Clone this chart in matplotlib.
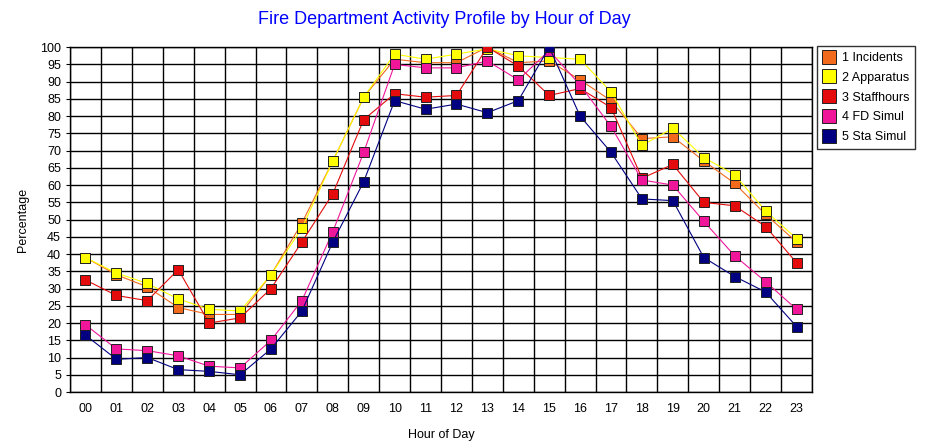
import matplotlib
matplotlib.use("Agg")
import matplotlib.pyplot as plt
from matplotlib.ticker import MultipleLocator, FixedLocator

plt.rcParams['font.family'] = ['Liberation Sans', 'DejaVu Sans']

hours = ["%02d" % h for h in range(24)]
incidents = [39, 34, 30.5, 24.5, 22.5, 22.5, 34, 49, 67, 85.5, 96.5, 95.5, 95.5, 100,
             95.5, 96, 90.5, 84.5, 73.5, 74, 67, 60.5, 51.5, 43.5]
apparatus = [39, 34.5, 31.5, 27, 24, 23.5, 34, 47.5, 67, 85.5, 98, 96.5, 98, 99.5,
             97.5, 97, 96.5, 87, 71.5, 76.5, 68, 63, 52.5, 44.5]
staffhours = [32.5, 28, 26.5, 35.5, 20, 21.5, 30, 43.5, 57.5, 79, 86.5, 85.5, 86, 100,
              94.5, 86, 88, 82.5, 62, 66, 55, 54, 48, 37.5]
fd_simul = [19.5, 12.5, 12, 10.5, 7.5, 7, 15, 26.5, 46.5, 69.5, 95, 94, 94, 96,
            90.5, 99, 89, 77, 61.5, 60, 49.5, 39.5, 32, 24]
sta_simul = [16.5, 9.5, 10, 6.5, 6, 5, 12.5, 23.5, 43.5, 61, 84.5, 82, 83.5, 81,
             84.5, 100, 80, 69.5, 56, 55.5, 39, 33.5, 29, 19]

series = [
    ("1 Incidents", incidents, "#f26b1d"),
    ("2 Apparatus", apparatus, "#ffff00"),
    ("3 Staffhours", staffhours, "#e30b0b"),
    ("4 FD Simul", fd_simul, "#f0169a"),
    ("5 Sta Simul", sta_simul, "#000080"),
]

fig = plt.figure(figsize=(9.3, 4.45), dpi=100)
ax = fig.add_axes([0.0753, 0.119, 0.7978, 0.775])

x = list(range(len(hours)))
for name, vals, col in series:
    ax.plot(x, vals, color=col, lw=0.8, marker='s', markersize=6.5,
            markerfacecolor=col, markeredgecolor='#202020', markeredgewidth=0.7,
            label=name, zorder=3)

ax.set_xlim(-0.5, 23.5)
ax.set_ylim(0, 100)
ax.yaxis.set_major_locator(MultipleLocator(5))
ax.set_xticks(x)
ax.set_xticklabels(hours)
ax.xaxis.set_minor_locator(FixedLocator([i + 0.5 for i in range(-1, 24)]))
ax.grid(True, which='minor', axis='x', color='black', lw=1)
ax.grid(True, which='major', axis='y', color='black', lw=1)
ax.tick_params(axis='x', which='major', length=0, labelsize=9, pad=8)
ax.tick_params(axis='x', which='minor', length=0)
ax.tick_params(axis='y', length=3, labelsize=9)
for s in ax.spines.values():
    s.set_color('black')
    s.set_linewidth(1)

ax.set_xlabel("Hour of Day", fontsize=9, labelpad=10)
ax.set_ylabel("Percentage", fontsize=9, labelpad=8)
fig.suptitle("Fire Department Activity Profile by Hour of Day", color='#0000ff',
             fontsize=13, x=0.478, y=0.975)

leg = ax.legend(loc='upper left', bbox_to_anchor=(0.998, 1.022), fontsize=9,
                frameon=True, fancybox=False, edgecolor='black', handlelength=1.0,
                handletextpad=0.5, borderpad=0.5, labelspacing=0.62,
                borderaxespad=0.5)
leg.get_frame().set_linewidth(1)
for h, (name, vals, col) in zip(leg.legend_handles, series):
    h.set_linestyle('none')
    h.set_markersize(10)

fig.savefig("out.png", dpi=100)
